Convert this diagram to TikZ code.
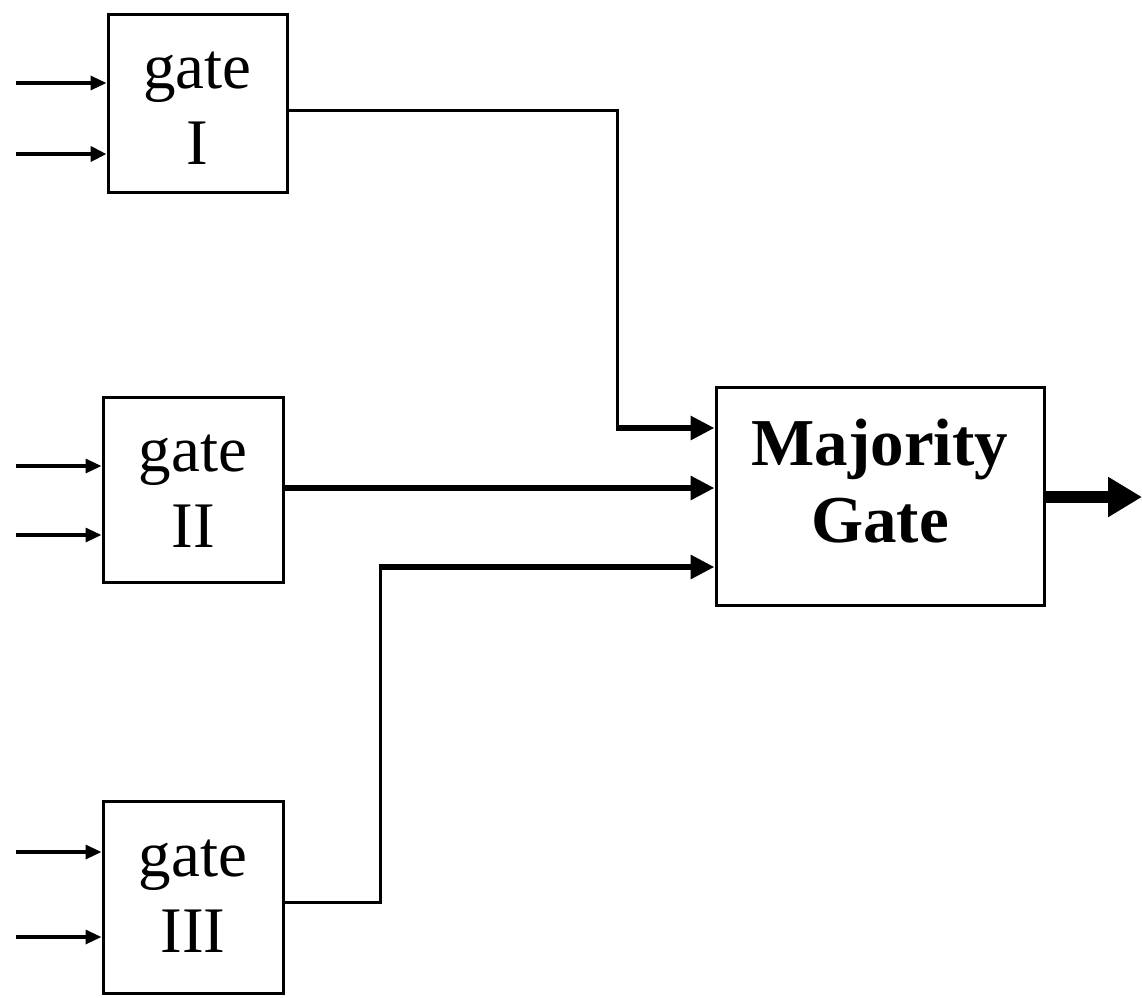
\documentclass[tikz,border=0pt]{standalone}
\usepackage{fontspec}
\setmainfont{Liberation Serif}
\usetikzlibrary{arrows.meta}
\begin{document}
\begin{tikzpicture}[x=1pt,y=-1pt,
  gatebox/.style={draw,line width=3pt,inner sep=0pt},
  gatetext/.style={inner sep=0pt,align=center,
    font=\fontsize{65}{76}\selectfont},
  majtext/.style={inner sep=0pt,align=center,
    font=\fontsize{67}{77}\selectfont\bfseries},
  inarrow/.style={line width=3.2pt,-{Triangle[length=16pt,width=14pt]}},
  inarrowb/.style={line width=4.5pt,-{Triangle[length=16pt,width=15pt]}},
  wire/.style={line width=3pt},
  bigarrow/.style={line width=6.5pt,-{Triangle[length=24pt,width=23pt]}},
  outarrow/.style={line width=12pt,-{Triangle[length=34pt,width=38pt]}}]
\useasboundingbox (0,0) rectangle (1142,997);
\fill[white] (0,0) rectangle (1142,997);

\node[gatebox,minimum width=179pt,minimum height=178pt] (g1) at (197.5,103) {};
\node[gatebox,minimum width=180pt,minimum height=185pt] (g2) at (193,489.5) {};
\node[gatebox,minimum width=180pt,minimum height=192pt] (g3) at (193,897) {};
\node[gatebox,minimum width=328pt,minimum height=218pt] (maj) at (880,496) {};

\node[gatetext] (t1) at ([yshift=-5pt]g1.center) {gate\\I};
\node[gatetext] (t2) at ([yshift=-2pt]g2.center) {gate\\II};
\node[gatetext] (t3) at ([yshift=1pt]g3.center) {gate\\III};
\node[majtext] (tm) at ([yshift=15pt]maj.center) {Majority\\Gate};

% inputs
\coordinate (i1a) at (16,83);
\coordinate (i1b) at (16,154);
\coordinate (i2a) at (16,466);
\coordinate (i2b) at (16,535);
\coordinate (i3a) at (16,852);
\coordinate (i3b) at (16,937);
\draw[inarrow] (i1a) -- (i1a -| g1.west);
\draw[inarrowb] (i1b) -- (i1b -| g1.west);
\draw[inarrow] (i2a) -- (i2a -| g2.west);
\draw[inarrow] (i2b) -- (i2b -| g2.west);
\draw[inarrow] (i3a) -- (i3a -| g3.west);
\draw[inarrow] (i3b) -- (i3b -| g3.west);

% gate I to majority
\coordinate (c1a) at (617,110);
\coordinate (c1) at (617,428);
\draw[wire] (g1.east |- c1a) -- (c1a) -- ([yshift=-1.5pt]c1);
\draw[bigarrow] ([xshift=-1.5pt]c1) -- (c1 -| maj.west);

% gate II to majority
\coordinate (c2) at (283,488);
\draw[bigarrow] (g2.east |- c2) -- (c2 -| maj.west);

% gate III to majority
\coordinate (c3a) at (380,902);
\coordinate (c3) at (380,567);
\draw[wire] (g3.east |- c3a) -- (c3a) -- ([yshift=1.5pt]c3);
\draw[bigarrow] ([xshift=-1.5pt]c3) -- (c3 -| maj.west);

% output
\coordinate (out) at (1142,497);
\draw[outarrow] (maj.east |- out) -- (out);
\end{tikzpicture}
\end{document}
